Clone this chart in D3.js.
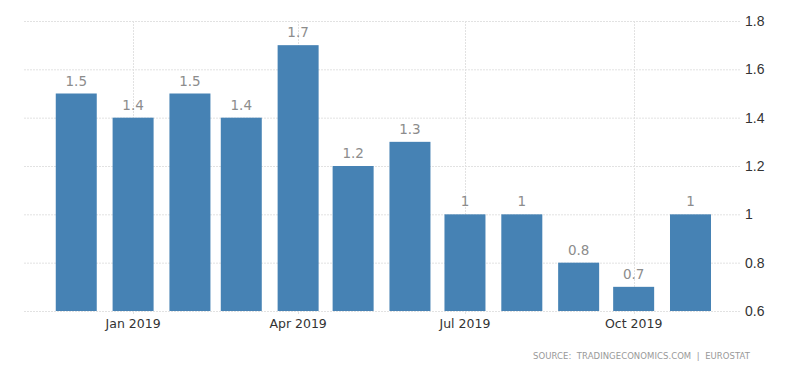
<!DOCTYPE html>
<html><head><meta charset="utf-8">
<script src="https://cdn.jsdelivr.net/npm/d3@7/dist/d3.min.js"></script>
<style>body{margin:0;background:#fff}svg{display:block}</style>
</head><body><svg id="c" width="800" height="373"></svg>
<script>
const months = ["2018-12","2019-01","2019-02","2019-03","2019-04","2019-05","2019-06","2019-07","2019-08","2019-09","2019-10","2019-11"];
const values = [1.5,1.4,1.5,1.4,1.7,1.2,1.3,1,1,0.8,0.7,1];
const yTicks = [0.6,0.8,1,1.2,1.4,1.6,1.8];
const xTickDates = ["2019-01","2019-04","2019-07","2019-10"];
const xTickLabels = ["Jan 2019","Apr 2019","Jul 2019","Oct 2019"];
const sourceText = "SOURCE:  TRADINGECONOMICS.COM  |  EUROSTAT";

const parse = s => { const [yy,m] = s.split("-").map(Number); return new Date(yy, m-1, 1); };
const svg = d3.select("#c");
const mL = 24, mR = 740, mT = 21, mB = 311;
const x = d3.scaleTime().domain([new Date(2018,10,2,12), new Date(2019,10,28)]).range([mL, mR]);
const y = d3.scaleLinear().domain([0.6,1.8]).range([mB, mT]);
const barW = 41;

// horizontal grid
svg.append("g").selectAll("line").data(yTicks).join("line")
  .attr("x1", mL).attr("x2", mR).attr("y1", d=>y(d)+0.5).attr("y2", d=>y(d)+0.5)
  .attr("stroke", "#e2e2e2").attr("stroke-dasharray","2,1");
// vertical grid
svg.append("g").selectAll("line").data(xTickDates).join("line")
  .attr("x1", d=>Math.round(x(parse(d)))+0.5).attr("x2", d=>Math.round(x(parse(d)))+0.5)
  .attr("y1", mT).attr("y2", mB+4)
  .attr("stroke", "#e2e2e2").attr("stroke-dasharray","2,1");

// bars
svg.append("g").selectAll("rect").data(values).join("rect")
  .attr("x", (d,i)=>x(parse(months[i])) - barW/2)
  .attr("width", barW)
  .attr("y", d=>y(d))
  .attr("height", d=>mB - y(d))
  .attr("fill", "#4682b4");

// value labels
svg.append("g").selectAll("text").data(values).join("text")
  .attr("x", (d,i)=>x(parse(months[i])))
  .attr("y", d=>y(d)-8)
  .attr("text-anchor","middle")
  .attr("font-family","'DejaVu Sans', sans-serif")
  .attr("font-size", 13.5)
  .attr("fill","#8c8c8c")
  .text(d=>String(d));

// y axis labels (right)
svg.append("g").selectAll("text").data(yTicks).join("text")
  .attr("x", 745).attr("y", d=>y(d)+5)
  .attr("font-family","'Liberation Sans', Arial, sans-serif")
  .attr("font-size", 14)
  .attr("fill","#333")
  .text(d=>String(d));

// x axis labels
svg.append("g").selectAll("text").data(xTickDates).join("text")
  .attr("x", d=>x(parse(d))).attr("y", 328)
  .attr("text-anchor","middle")
  .attr("font-family","'DejaVu Sans', sans-serif")
  .attr("font-size", 12.5)
  .attr("fill","#333")
  .text((d,i)=>xTickLabels[i]);

// source
svg.append("text").attr("x", 533).attr("y", 359)
  .attr("textLength", 217).attr("lengthAdjust","spacing")
  .attr("font-family","'DejaVu Sans', sans-serif").attr("font-size", 8.5)
  .attr("fill","#999").style("white-space","pre")
  .text(sourceText);
</script></body></html>
